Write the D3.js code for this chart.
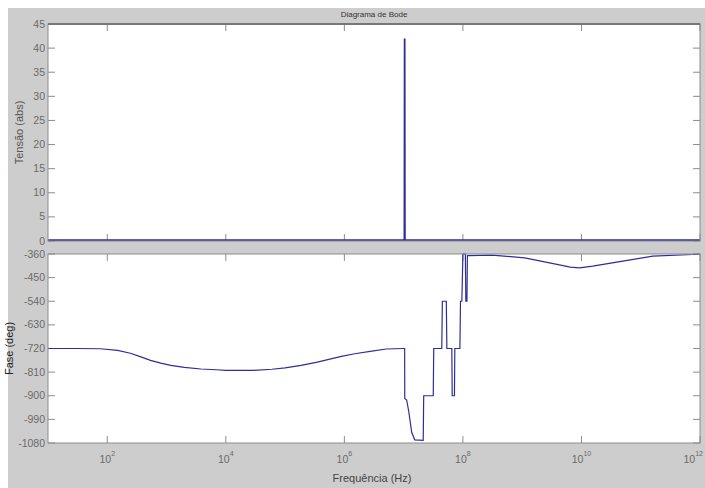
<!DOCTYPE html>
<html>
<head>
<meta charset="utf-8">
<script src="https://cdn.jsdelivr.net/npm/d3@7"></script>
<style>
  html, body { margin: 0; padding: 0; background: #ffffff; }
  svg { display: block; }
  text { font-family: "Liberation Sans", Arial, sans-serif; }
</style>
</head>
<body>
<svg id="chart" width="705" height="488"></svg>
<script>
// Magnitude response (absolute voltage) versus frequency in Hz
const magFreq = [10, 1.0e3, 1.0e6, 1.03e7, 1.04e7, 1.05e7, 1.0e9, 1.0e12];
const magValue = [0.2, 0.2, 0.2, 0.2, 42, 0.2, 0.2, 0.2];

// Phase response in degrees versus frequency in Hz
const phaseFreq = [
  10, 30, 76, 150, 245, 350, 537, 800, 1175, 2000, 3800, 7000, 1.0e4, 1.78e4,
  3.0e4, 6.0e4, 1.0e5, 1.86e5, 3.5e5, 8.9e5, 1.5e6, 2.9e6, 5.1e6, 1.0e7,
  1.04e7, 1.045e7, 1.125e7, 1.22e7, 1.37e7, 1.54e7, 2.14e7, 2.18e7, 3.16e7,
  3.22e7, 4.4e7, 4.5e7, 5.25e7, 5.36e7, 6.5e7, 6.6e7, 7.2e7, 7.3e7, 8.9e7,
  9.1e7, 9.6e7, 1.0e8, 1.1e8, 1.12e8, 1.17e8, 1.19e8, 1.26e8, 3.1e8, 1.1e9,
  2.9e9, 6.5e9, 9.3e9, 1.55e10, 5.6e10, 1.6e11, 7.6e11, 1.0e12
];
const phaseValue = [
  -720, -720, -721, -727, -738, -750, -765, -776, -784, -792, -798, -801, -803, -803,
  -803, -799, -794, -784, -772, -750, -740, -730, -722, -720,
  -720, -910, -916, -960, -1040, -1068, -1070, -900, -900,
  -720, -720, -540, -540, -720, -720, -900, -900, -720, -720,
  -540, -540, -360, -360, -540, -540, -366, -366, -364, -375,
  -394, -410, -413, -406, -385, -368, -362, -360
];

// Axis tick values
const freqTicks = [1e2, 1e4, 1e6, 1e8, 1e10, 1e12];
const magTicks = [0, 5, 10, 15, 20, 25, 30, 35, 40, 45];
const phaseTicks = [-360, -450, -540, -630, -720, -810, -900, -990, -1080];

const W = 705, H = 488;
const left = 48, right = 700;
const top1 = 24, bottom1 = 241;
const top2 = 254, bottom2 = 443;

const svg = d3.select("#chart");
const lineColor = "#2e2e9a";
const boxColor = "#8c8c8c";
const labelColor = "#6a6a6a";

// Figure background
svg.append("rect").attr("x", 8).attr("y", 8).attr("width", W - 8).attr("height", H - 8)
  .attr("fill", "#cdcdcd");

const x = d3.scaleLog().domain([10, 1e12]).range([left, right]);
const yMag = d3.scaleLinear().domain([0, 45]).range([bottom1, top1]);
const yPh = d3.scaleLinear().domain([-1080, -360]).range([bottom2, top2]);

function panel(y0, y1, yScale, yTicks, clipId) {
  const g = svg.append("g");
  g.append("rect").attr("x", left).attr("y", y0).attr("width", right - left).attr("height", y1 - y0)
    .attr("fill", "#ffffff");
  svg.append("clipPath").attr("id", clipId).append("rect")
    .attr("x", left).attr("y", y0 - 1).attr("width", right - left).attr("height", y1 - y0 + 2);
  const tl = 7;
  // left and right y ticks
  g.selectAll(".ytl").data(yTicks).join("line")
    .attr("x1", left).attr("x2", left + tl)
    .attr("y1", d => yScale(d)).attr("y2", d => yScale(d))
    .attr("stroke", boxColor).attr("stroke-width", 1);
  g.selectAll(".ytr").data(yTicks).join("line")
    .attr("x1", right).attr("x2", right - tl)
    .attr("y1", d => yScale(d)).attr("y2", d => yScale(d))
    .attr("stroke", boxColor).attr("stroke-width", 1);
  // top and bottom x ticks
  g.selectAll(".xtt").data(freqTicks).join("line")
    .attr("x1", d => x(d)).attr("x2", d => x(d))
    .attr("y1", y0).attr("y2", y0 + tl)
    .attr("stroke", boxColor).attr("stroke-width", 1);
  g.selectAll(".xtb").data(freqTicks).join("line")
    .attr("x1", d => x(d)).attr("x2", d => x(d))
    .attr("y1", y1).attr("y2", y1 - tl)
    .attr("stroke", boxColor).attr("stroke-width", 1);
  // y tick labels
  g.selectAll(".ylab").data(yTicks).join("text")
    .attr("x", left - 3).attr("y", d => yScale(d) + 3.5)
    .attr("text-anchor", "end").attr("font-size", 10.5).attr("fill", labelColor)
    .text(d => d);
  return g;
}

const gMag = panel(top1, bottom1, yMag, magTicks, "clipMag");
const gPh = panel(top2, bottom2, yPh, phaseTicks, "clipPh");

// Magnitude curve
const magData = magFreq.map((f, i) => [f, magValue[i]]);
gMag.append("path").datum(magData)
  .attr("clip-path", "url(#clipMag)")
  .attr("fill", "none").attr("stroke", lineColor).attr("stroke-width", 1.8)
  .attr("d", d3.line().x(d => x(d[0])).y(d => yMag(d[1])));

// Phase curve
const phData = phaseFreq.map((f, i) => [f, phaseValue[i]]);
gPh.append("path").datum(phData)
  .attr("clip-path", "url(#clipPh)")
  .attr("fill", "none").attr("stroke", lineColor).attr("stroke-width", 1.2)
  .attr("d", d3.line().x(d => x(d[0])).y(d => yPh(d[1])));

// Axes boxes
[[top1, bottom1], [top2, bottom2]].forEach(([a, b]) => {
  svg.append("rect").attr("x", left).attr("y", a).attr("width", right - left).attr("height", b - a)
    .attr("fill", "none").attr("stroke", boxColor).attr("stroke-width", 1);
});
svg.append("line").attr("x1", left).attr("x2", right).attr("y1", top1).attr("y2", top1)
  .attr("stroke", "#777777").attr("stroke-width", 2);

// Frequency tick labels with exponents; the last one is kept inside the figure edge
const lastTick = freqTicks[freqTicks.length - 1];
const xl = svg.selectAll(".xlab").data(freqTicks).join("text")
  .attr("x", d => d === lastTick ? W - 2 : x(d)).attr("y", 463)
  .attr("text-anchor", d => d === lastTick ? "end" : "middle")
  .attr("font-size", 10.5).attr("fill", labelColor);
xl.append("tspan").text("10");
xl.append("tspan").attr("dy", -7).attr("font-size", 7).text(d => Math.round(Math.log10(d)));

// Titles and axis labels
svg.append("text").attr("x", (left + right) / 2).attr("y", 17)
  .attr("text-anchor", "middle").attr("font-size", 8).attr("fill", "#333333")
  .text("Diagrama de Bode");
svg.append("text").attr("x", 372).attr("y", 482)
  .attr("text-anchor", "middle").attr("font-size", 11).attr("fill", "#444444")
  .text("Frequência (Hz)");
svg.append("text").attr("transform", `translate(23,${(top1 + bottom1) / 2}) rotate(-90)`)
  .attr("text-anchor", "middle").attr("font-size", 11).attr("fill", "#555555")
  .text("Tensão (abs)");
svg.append("text").attr("transform", `translate(13,${(top2 + bottom2) / 2}) rotate(-90)`)
  .attr("text-anchor", "middle").attr("font-size", 11).attr("fill", "#222222")
  .text("Fase (deg)");
</script>
</body>
</html>
